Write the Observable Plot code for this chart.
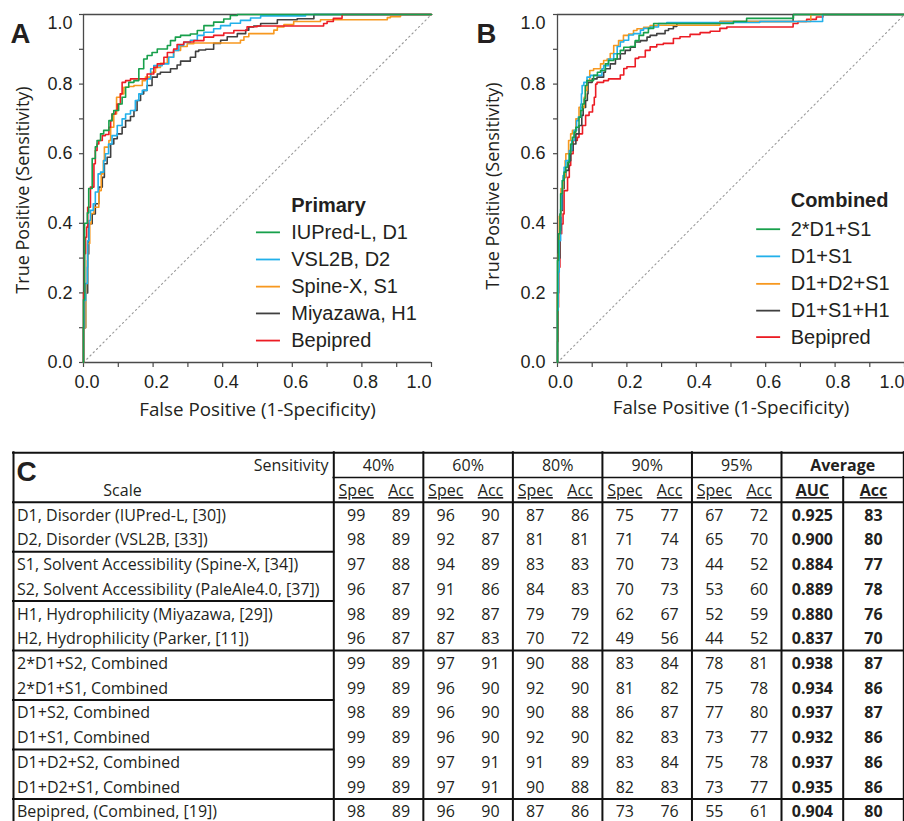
<!DOCTYPE html>
<html>
<head>
<meta charset="utf-8">
<script src="https://cdn.jsdelivr.net/npm/d3@7"></script>
<script src="https://cdn.jsdelivr.net/npm/@observablehq/plot@0.6"></script>
<style>
  html, body { margin: 0; padding: 0; background: #ffffff; }
  #wrap { position: relative; width: 904px; height: 821px; overflow: hidden; background: #fff; }
  #wrap > div { position: absolute; }
  svg { display: block; }
</style>
</head>
<body>
<div id="wrap">
  <div id="panelA" style="left:0px; top:0px;"></div>
  <div id="panelB" style="left:452px; top:0px;"></div>
  <div id="panelC" style="left:0px; top:450px;"></div>
</div>
<script>
// ---------------- DATA: ROC curves, panel A (Primary) : [FPR, TPR] ----------------
const aIUPred = [[0,0],[0,0.18],[0.003,0.18],[0.003,0.365],[0.011,0.40],[0.015,0.43],[0.025,0.50],[0.034,0.586],[0.039,0.62],[0.049,0.638],[0.058,0.657],[0.073,0.667],[0.082,0.695],[0.087,0.714],[0.092,0.724],[0.101,0.724],[0.111,0.743],[0.121,0.762],[0.130,0.791],[0.145,0.805],[0.159,0.81],[0.173,0.844],[0.183,0.872],[0.197,0.882],[0.212,0.891],[0.241,0.901],[0.25,0.911],[0.264,0.925],[0.279,0.935],[0.307,0.94],[0.327,0.944],[0.346,0.954],[0.374,0.968],[0.403,0.978],[0.422,0.987],[0.442,0.997],[0.456,1],[1,1]];
const aVSL2B = [[0,0],[0.003,0.1],[0.006,0.178],[0.011,0.227],[0.012,0.274],[0.016,0.35],[0.020,0.408],[0.028,0.437],[0.034,0.456],[0.042,0.49],[0.049,0.542],[0.058,0.547],[0.063,0.58],[0.072,0.6],[0.082,0.628],[0.097,0.652],[0.111,0.681],[0.121,0.7],[0.135,0.714],[0.149,0.724],[0.159,0.753],[0.169,0.772],[0.183,0.782],[0.193,0.815],[0.202,0.844],[0.226,0.853],[0.245,0.858],[0.259,0.877],[0.274,0.897],[0.288,0.911],[0.307,0.92],[0.327,0.926],[0.346,0.94],[0.374,0.949],[0.394,0.959],[0.422,0.968],[0.451,0.975],[0.48,0.983],[0.509,0.99],[0.537,0.996],[0.638,0.996],[0.643,1],[1,1]];
const aSpineX = [[0,0],[0.003,0.1],[0.006,0.1],[0.008,0.2],[0.011,0.227],[0.012,0.293],[0.018,0.342],[0.022,0.399],[0.030,0.428],[0.044,0.446],[0.051,0.494],[0.057,0.542],[0.060,0.58],[0.073,0.619],[0.078,0.638],[0.087,0.676],[0.095,0.714],[0.106,0.762],[0.116,0.772],[0.130,0.791],[0.145,0.793],[0.169,0.796],[0.178,0.81],[0.193,0.82],[0.207,0.834],[0.221,0.848],[0.241,0.86],[0.259,0.877],[0.279,0.897],[0.298,0.908],[0.317,0.916],[0.451,0.918],[0.461,0.926],[0.475,0.936],[0.499,0.945],[0.547,0.945],[0.557,0.955],[0.576,0.964],[0.604,0.971],[0.681,0.98],[0.719,0.985],[0.873,0.985],[0.882,0.991],[0.911,0.994],[0.92,1],[1,1]];
const aMiyazawa = [[0,0],[0.006,0.1],[0.012,0.2],[0.015,0.312],[0.025,0.399],[0.034,0.427],[0.044,0.456],[0.054,0.504],[0.060,0.532],[0.068,0.571],[0.078,0.59],[0.087,0.628],[0.097,0.643],[0.111,0.657],[0.121,0.676],[0.135,0.695],[0.145,0.707],[0.154,0.724],[0.164,0.753],[0.173,0.772],[0.183,0.782],[0.197,0.796],[0.212,0.82],[0.221,0.829],[0.25,0.834],[0.269,0.844],[0.279,0.855],[0.307,0.866],[0.322,0.877],[0.331,0.894],[0.351,0.898],[0.374,0.9],[0.394,0.917],[0.413,0.926],[0.442,0.936],[0.466,0.945],[0.475,0.955],[0.489,0.964],[0.509,0.967],[0.557,0.974],[0.614,0.985],[0.662,0.988],[0.667,1],[1,1]];
const aBepipred = [[0,0],[0.003,0.2],[0.006,0.313],[0.009,0.36],[0.012,0.389],[0.020,0.446],[0.030,0.504],[0.034,0.571],[0.039,0.609],[0.044,0.628],[0.054,0.638],[0.063,0.652],[0.073,0.655],[0.078,0.676],[0.082,0.695],[0.092,0.714],[0.097,0.724],[0.106,0.743],[0.111,0.772],[0.121,0.805],[0.135,0.81],[0.149,0.815],[0.183,0.815],[0.202,0.829],[0.212,0.848],[0.231,0.858],[0.241,0.877],[0.259,0.891],[0.269,0.901],[0.288,0.914],[0.317,0.921],[0.346,0.925],[0.374,0.935],[0.403,0.94],[0.432,0.947],[0.47,0.954],[0.499,0.965],[0.52,0.967],[0.69,0.967],[0.70,0.974],[0.718,0.98],[0.743,0.989],[0.767,1],[1,1]];

// ---------------- DATA: ROC curves, panel B (Combined) ----------------
const b2D1S1 = [[0,0],[0,0.178],[0.003,0.293],[0.007,0.37],[0.009,0.427],[0.014,0.485],[0.019,0.523],[0.024,0.547],[0.029,0.561],[0.034,0.575],[0.038,0.6],[0.043,0.628],[0.048,0.647],[0.053,0.662],[0.062,0.676],[0.067,0.705],[0.072,0.724],[0.077,0.743],[0.080,0.757],[0.085,0.796],[0.104,0.81],[0.115,0.825],[0.124,0.834],[0.138,0.839],[0.147,0.858],[0.162,0.868],[0.172,0.872],[0.181,0.887],[0.191,0.897],[0.21,0.906],[0.224,0.908],[0.235,0.925],[0.248,0.94],[0.262,0.948],[0.277,0.96],[0.291,0.974],[0.507,0.974],[0.545,0.98],[0.68,0.989],[0.684,1],[1,1]];
const bD1S1 = [[0,0],[0.002,0.15],[0.005,0.26],[0.009,0.35],[0.012,0.44],[0.014,0.485],[0.016,0.523],[0.019,0.537],[0.024,0.561],[0.034,0.58],[0.041,0.609],[0.048,0.638],[0.055,0.667],[0.06,0.695],[0.067,0.705],[0.069,0.743],[0.071,0.772],[0.076,0.796],[0.085,0.805],[0.095,0.82],[0.109,0.825],[0.128,0.825],[0.133,0.844],[0.147,0.853],[0.162,0.872],[0.172,0.887],[0.181,0.908],[0.191,0.921],[0.205,0.926],[0.219,0.941],[0.239,0.945],[0.248,0.955],[0.267,0.96],[0.291,0.964],[0.315,0.974],[0.583,0.977],[0.59,0.98],[0.764,0.98],[0.767,1],[1,1]];
const bD1D2S1 = [[0,0],[0.001,0.2],[0.003,0.26],[0.005,0.312],[0.01,0.42],[0.016,0.5],[0.022,0.532],[0.024,0.58],[0.032,0.6],[0.038,0.638],[0.043,0.657],[0.053,0.667],[0.062,0.7],[0.077,0.733],[0.081,0.762],[0.085,0.782],[0.093,0.81],[0.104,0.839],[0.124,0.844],[0.133,0.858],[0.143,0.868],[0.152,0.872],[0.162,0.888],[0.176,0.911],[0.19,0.925],[0.205,0.94],[0.219,0.944],[0.229,0.954],[0.248,0.959],[0.267,0.963],[0.286,0.968],[0.358,0.969],[0.468,0.969],[0.47,0.98],[0.73,0.98],[0.736,1],[1,1]];
const bD1S1H1 = [[0,0],[0.003,0.2],[0.007,0.3],[0.01,0.38],[0.014,0.437],[0.019,0.5],[0.024,0.532],[0.032,0.552],[0.038,0.58],[0.045,0.609],[0.053,0.628],[0.062,0.657],[0.07,0.681],[0.074,0.71],[0.081,0.733],[0.086,0.753],[0.088,0.772],[0.1,0.805],[0.114,0.815],[0.133,0.82],[0.138,0.834],[0.152,0.844],[0.167,0.858],[0.181,0.872],[0.195,0.887],[0.21,0.897],[0.224,0.906],[0.239,0.921],[0.258,0.925],[0.267,0.935],[0.286,0.94],[0.31,0.945],[0.32,0.954],[0.334,0.959],[0.344,0.966],[0.358,0.974],[0.468,0.974],[0.47,0.98],[0.679,0.98],[0.68,1],[1,1]];
const bBepipred = [[0,0],[0.002,0.06],[0.003,0.159],[0.007,0.274],[0.012,0.37],[0.016,0.398],[0.019,0.427],[0.029,0.494],[0.034,0.532],[0.038,0.566],[0.045,0.6],[0.057,0.638],[0.062,0.647],[0.072,0.657],[0.081,0.681],[0.091,0.71],[0.101,0.72],[0.106,0.74],[0.110,0.762],[0.114,0.8],[0.133,0.805],[0.147,0.81],[0.181,0.815],[0.191,0.826],[0.200,0.845],[0.224,0.85],[0.234,0.874],[0.253,0.878],[0.267,0.897],[0.286,0.907],[0.305,0.914],[0.334,0.917],[0.353,0.931],[0.382,0.936],[0.411,0.943],[0.44,0.948],[0.468,0.952],[0.488,0.96],[0.497,0.964],[0.679,0.964],[0.693,0.974],[0.718,0.98],[0.746,0.986],[0.765,0.993],[0.77,1],[1,1]];

// ---------------- DATA: legend labels and tick labels ----------------
const primaryLabels = ["IUPred-L, D1", "VSL2B, D2", "Spine-X, S1", "Miyazawa, H1", "Bepipred"];
const combinedLabels = ["2*D1+S1", "D1+S1", "D1+D2+S1", "D1+S1+H1", "Bepipred"];
const tickLabels = [0, 0.2, 0.4, 0.6, 0.8, 1.0];
const minorTicks = [0, 0.1, 0.2, 0.3, 0.4, 0.5, 0.6, 0.7, 0.8, 0.9, 1.0];

// ---------------- DATA: table C ----------------
const scaleLabels = [
  "D1, Disorder (IUPred-L, [30])",
  "D2, Disorder (VSL2B, [33])",
  "S1, Solvent Accessibility (Spine-X, [34])",
  "S2, Solvent Accessibility (PaleAle4.0, [37])",
  "H1, Hydrophilicity (Miyazawa, [29])",
  "H2, Hydrophilicity (Parker, [11])",
  "2*D1+S2, Combined",
  "2*D1+S1, Combined",
  "D1+S2, Combined",
  "D1+S1, Combined",
  "D1+D2+S2, Combined",
  "D1+D2+S1, Combined",
  "Bepipred, (Combined, [19])"
];
const sensitivityLevels = ["40%", "60%", "80%", "90%", "95%"];
const spec40 = [99, 98, 97, 96, 98, 96, 99, 99, 98, 99, 99, 99, 98];
const acc40  = [89, 89, 88, 87, 89, 87, 89, 89, 89, 89, 89, 89, 89];
const spec60 = [96, 92, 94, 91, 92, 87, 97, 96, 96, 96, 97, 97, 96];
const acc60  = [90, 87, 89, 86, 87, 83, 91, 90, 90, 90, 91, 91, 90];
const spec80 = [87, 81, 83, 84, 79, 70, 90, 92, 90, 92, 91, 90, 87];
const acc80  = [86, 81, 83, 83, 79, 72, 88, 90, 88, 90, 89, 88, 86];
const spec90 = [75, 71, 70, 70, 62, 49, 83, 81, 86, 82, 83, 82, 73];
const acc90  = [77, 74, 73, 73, 67, 56, 84, 82, 87, 83, 84, 83, 76];
const spec95 = [67, 65, 44, 53, 52, 44, 78, 75, 77, 73, 75, 73, 55];
const acc95  = [72, 70, 52, 60, 59, 52, 81, 78, 80, 77, 78, 77, 61];
const aucAvg = [0.925, 0.900, 0.884, 0.889, 0.880, 0.837, 0.938, 0.934, 0.937, 0.932, 0.937, 0.935, 0.904];
const accAvg = [83, 80, 77, 78, 76, 70, 87, 86, 87, 86, 86, 86, 80];

// ---------------- STYLE ----------------
const HUMAN = "'Open Sans', Lato, sans-serif";
const ARIAL = "'Liberation Sans', Arial, Helvetica, sans-serif";
const INK = "#231f20";
const AXIS = "#4a4a4a";
const GREEN = "#17a04b", BLUE = "#22b0ea", ORANGE = "#f7981f", DARK = "#404040", RED = "#ec1c24";

function rocPanel(cfg) {
  const pts = cfg.series.flatMap(s => s.pts.map(([f, t]) => ({name: s.name, f, t})));
  const legend = cfg.legendOrder.map((name, i) => ({name, i}));
  return Plot.plot({
    width: cfg.width, height: 425,
    marginTop: 14, marginBottom: 63, marginLeft: cfg.marginLeft, marginRight: cfg.marginRight,
    x: {domain: [0, 1], axis: null, label: null},
    y: {domain: [0, 1], axis: null, label: null},
    color: {domain: cfg.series.map(s => s.name), range: cfg.series.map(s => s.color)},
    style: {fontFamily: ARIAL, fontSize: "18px", color: INK, background: "transparent", overflow: "visible"},
    marks: [
      Plot.line([[0, 0], [1, 1]], {stroke: "#9b9b9b", strokeWidth: 1.1, strokeDasharray: "1.4,3.2"}),
      Plot.axisX({ticks: minorTicks, tickSize: 5, tickFormat: () => "", stroke: AXIS, strokeWidth: 1.2, label: null}),
      Plot.axisY({ticks: minorTicks, tickSize: 4, tickFormat: () => "", stroke: AXIS, strokeWidth: 1.2, label: null}),
      Plot.ruleY([0, 1], {stroke: AXIS, strokeWidth: 1.3}),
      Plot.ruleX([0], {stroke: AXIS, strokeWidth: 1.3}),
      Plot.line(pts, {x: "f", y: "t", z: "name", stroke: "name", strokeWidth: 1.6, curve: "step-before"}),
      // tick labels
      Plot.text(tickLabels.filter(d => d < 1), {x: d => d, y: 0, text: d => d.toFixed(1), dy: 20, dx: cfg.xLabelDx, fill: INK}),
      Plot.text([1], {x: d => d, y: 0, text: d => d.toFixed(1), dy: 20, textAnchor: "end", fill: INK}),
      Plot.text(tickLabels.filter(d => d < 1), {x: 0, y: d => d, text: d => d.toFixed(1), dx: cfg.yLabelDx, textAnchor: "end", fill: INK}),
      Plot.text([1], {x: 0, y: d => d, text: d => d.toFixed(1), dx: cfg.yLabelDx, dy: 9, textAnchor: "end", fill: INK}),
      // axis titles
      Plot.text(["False Positive (1-Specificity)"], {frameAnchor: "bottom", text: d => d, lineAnchor: "bottom", dy: cfg.xTitleDy, fontFamily: HUMAN, fontSize: 18.8, fill: INK}),
      Plot.text(["True Positive (Sensitivity)"], {frameAnchor: "left", text: d => d, rotate: -90, textAnchor: "middle", lineAnchor: "bottom", dx: cfg.yTitleDx, dy: cfg.yTitleDy, fontFamily: HUMAN, fontSize: 18, fill: INK}),
      // panel letter
      Plot.text([cfg.letter], {frameAnchor: "top-left", text: d => d, textAnchor: "start", lineAnchor: "bottom", dx: cfg.letterDx, dy: 28, fontSize: 27.5, fontWeight: "bold", fill: INK}),
      // legend
      Plot.text([cfg.legendTitle], {x: cfg.legendTextX, y: cfg.legendTitleY, text: d => d, textAnchor: "start", fontSize: 20, fontWeight: "bold", fill: INK}),
      Plot.ruleY(legend, {y: d => cfg.legendY[d.i], x1: cfg.swatchX[0], x2: cfg.swatchX[1], stroke: d => d.name, strokeWidth: 1.8}),
      Plot.text(legend, {x: cfg.legendTextX, y: d => cfg.legendY[d.i], text: d => d.name, textAnchor: "start", fontSize: 20, fill: INK})
    ]
  });
}

const svgA = rocPanel({
  width: 452, marginLeft: 83, marginRight: 21,
  series: [
    {name: primaryLabels[3], pts: aMiyazawa, color: DARK},
    {name: primaryLabels[2], pts: aSpineX, color: ORANGE},
    {name: primaryLabels[1], pts: aVSL2B, color: BLUE},
    {name: primaryLabels[4], pts: aBepipred, color: RED},
    {name: primaryLabels[0], pts: aIUPred, color: GREEN}
  ],
  legendOrder: primaryLabels,
  legendTitle: "Primary",
  legendTextX: 0.597, legendTitleY: 0.452, swatchX: [0.497, 0.566],
  legendY: [0.374, 0.296, 0.218, 0.141, 0.063],
  letter: "A", letterDx: -73,
  xLabelDx: 3.5, yLabelDx: -11,
  xTitleDy: 53, yTitleDx: -54.5, yTitleDy: 1.5
});
document.getElementById("panelA").appendChild(svgA);

const svgB = rocPanel({
  width: 452, marginLeft: 105, marginRight: 0,
  series: [
    {name: combinedLabels[4], pts: bBepipred, color: RED},
    {name: combinedLabels[3], pts: bD1S1H1, color: DARK},
    {name: combinedLabels[2], pts: bD1D2S1, color: ORANGE},
    {name: combinedLabels[1], pts: bD1S1, color: BLUE},
    {name: combinedLabels[0], pts: b2D1S1, color: GREEN}
  ],
  legendOrder: combinedLabels,
  legendTitle: "Combined",
  legendTextX: 0.672, legendTitleY: 0.464, swatchX: [0.574, 0.643],
  legendY: [0.383, 0.305, 0.226, 0.149, 0.073],
  letter: "B", letterDx: -81,
  xLabelDx: 3, yLabelDx: -12,
  xTitleDy: 51, yTitleDx: -58.5, yTitleDy: -2.5
});
document.getElementById("panelB").appendChild(svgB);

// ---------------- TABLE C ----------------
// layout (table units = pixels across the page width)
const T = {left: 13, label: 333.3, sens: 781, auc: 842.7, right: 903.3};
const groupW = (T.sens - T.label) / sensitivityLevels.length;
const groupEdges = d3.range(sensitivityLevels.length + 1).map(i => T.label + i * groupW);
const subX = (g, k) => groupEdges[g] + groupW * (k ? 0.75 : 0.25);
const aucX = (T.sens + T.auc) / 2, accX = (T.auc + T.right) / 2;

const numericCols = [spec40, acc40, spec60, acc60, spec80, acc80, spec90, acc90, spec95, acc95];
const plainCells = scaleLabels.flatMap((_, i) => numericCols.map((col, j) => ({x: subX(Math.floor(j / 2), j % 2), y: i + 2.5, text: String(col[i])})));
const boldCells = scaleLabels.flatMap((_, i) => [
  {x: aucX, y: i + 2.5, text: aucAvg[i].toFixed(3)},
  {x: accX, y: i + 2.5, text: String(accAvg[i])}
]);
const headerPlain = [
  ...sensitivityLevels.map((s, g) => ({x: (groupEdges[g] + groupEdges[g + 1]) / 2, y: 0.5, text: s})),
  ...sensitivityLevels.flatMap((s, g) => [{x: subX(g, 0), y: 1.5, text: "Spec"}, {x: subX(g, 1), y: 1.5, text: "Acc"}]),
  {x: 122, y: 1.5, text: "Scale"}
];
const headerBold = [
  {x: (T.sens + T.right) / 2, y: 0.5, text: "Average"},
  {x: aucX, y: 1.5, text: "AUC"},
  {x: accX, y: 1.5, text: "Acc"}
];
const hLines = [
  {y: 0, x1: T.left, x2: T.right, w: 2},
  {y: 1, x1: T.label, x2: T.right, w: 1.7},
  {y: 2, x1: T.left, x2: T.right, w: 2},
  {y: 4, x1: T.left, x2: T.label, w: 2},
  {y: 6, x1: T.left, x2: T.label, w: 2},
  {y: 8, x1: T.left, x2: T.right, w: 2},
  {y: 10, x1: T.left, x2: T.label, w: 2},
  {y: 12, x1: T.left, x2: T.label, w: 2},
  {y: 14, x1: T.left, x2: T.right, w: 2}
];
const vLines = [
  {x: T.left, y1: 0, y2: 15.5},
  ...groupEdges.map(x => ({x, y1: 0, y2: 15.5})),
  {x: T.auc, y1: 1, y2: 15.5},
  {x: T.right, y1: 0, y2: 15.5}
];
const rowStep = 24.72, tableTop = 2.3;

const svgC = Plot.plot({
  width: 904, height: 371, margin: 0,
  x: {type: "linear", domain: [0, 904], range: [0, 904], axis: null},
  y: {type: "linear", domain: [0, 15], range: [tableTop, tableTop + 15 * rowStep], axis: null},
  style: {fontFamily: HUMAN, fontSize: "16px", color: INK, background: "transparent", overflow: "visible"},
  marks: [
    Plot.ruleY(hLines, {y: "y", x1: "x1", x2: "x2", stroke: "#111", strokeWidth: "w", strokeLinecap: "square"}),
    Plot.ruleX(vLines, {x: "x", y1: "y1", y2: "y2", stroke: "#111", strokeWidth: 2, strokeLinecap: "square"}),
    Plot.text(["C"], {x: 16, y: 1, text: d => d, textAnchor: "start", lineAnchor: "bottom", dy: 3, fontFamily: ARIAL, fontSize: 28, fontWeight: "bold", fill: INK}),
    Plot.text(["Sensitivity"], {x: 328, y: 0.5, text: d => d, textAnchor: "end", dy: 1, fill: INK}),
    Plot.text(headerPlain, {x: "x", y: "y", text: "text", dy: 1, fill: INK}),
    Plot.text(headerBold, {x: "x", y: "y", text: "text", dy: 1, fontWeight: "bold", fill: INK}),
    Plot.text(scaleLabels, {x: 16.5, y: (d, i) => i + 2.5, text: d => d, textAnchor: "start", dy: 1, fill: INK}),
    Plot.text(plainCells, {x: "x", y: "y", text: "text", dy: 1, fill: INK}),
    Plot.text(boldCells, {x: "x", y: "y", text: "text", dy: 1, fontWeight: "bold", fill: INK})
  ]
});
svgC.querySelectorAll("text").forEach(t => {
  if (["Spec", "Acc", "AUC"].includes(t.textContent)) t.style.textDecoration = "underline";
});
document.getElementById("panelC").appendChild(svgC);
</script>
</body>
</html>
